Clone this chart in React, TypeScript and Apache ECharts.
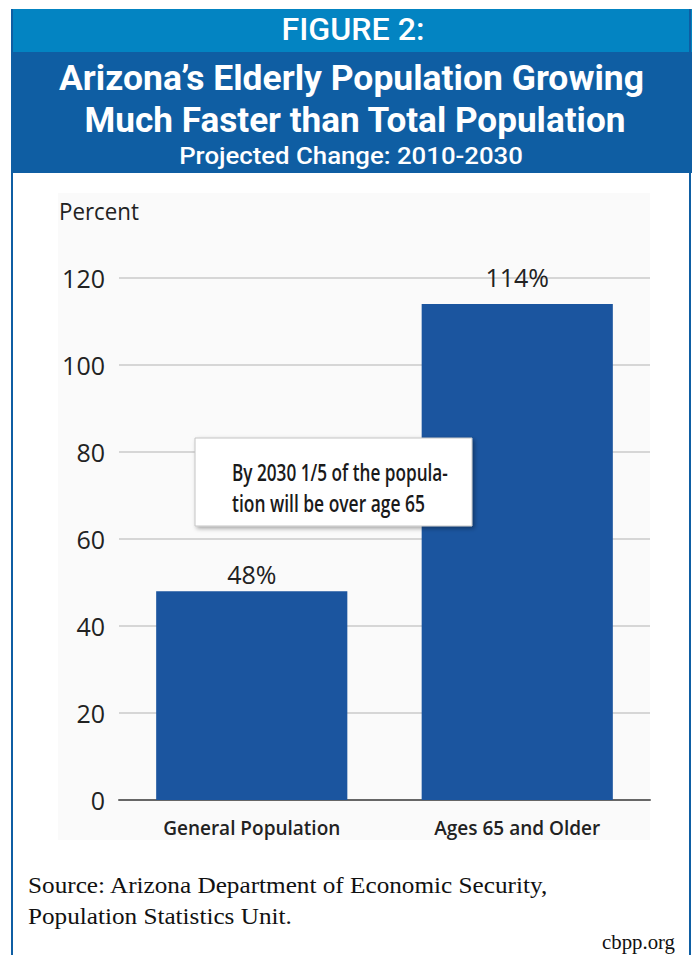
import React, { useEffect, useRef } from "react";
import * as echarts from "echarts";

const categories = ["General Population", "Ages 65 and Older"];
const values = [48, 114];
const valueLabels = ["48%", "114%"];
const yTicks = [0, 20, 40, 60, 80, 100, 120];

const figureLabel = "FIGURE 2:";
const titleLines = ["Arizona’s Elderly Population Growing", "Much Faster than Total Population"];
const subtitle = "Projected Change: 2010-2030";
const noteLines = ["By 2030 1/5 of the popula-", "tion will be over age 65"];
const sourceLines = ["Source: Arizona Department of Economic Security,", "Population Statistics Unit."];
const credit = "cbpp.org";

function measure(text: string, font: string): number {
  const c = document.createElement("canvas").getContext("2d");
  if (!c) return 100;
  c.font = font;
  return c.measureText(text).width;
}

function fitText(
  text: string,
  x: number,
  y: number,
  size: number,
  weight: string,
  family: string,
  target: number,
  color: string,
  align: string,
  z = 10
) {
  const font = `${weight} ${size}px ${family}`;
  const w = measure(text, font);
  const sx = target / w;
  return {
    type: "text",
    x,
    y,
    scaleX: sx,
    z,
    style: {
      text,
      fill: color,
      font,
      textAlign: align,
      textVerticalAlign: "middle",
    },
  };
}

export default function App() {
  const ref = useRef<HTMLDivElement>(null);
  useEffect(() => {
    if (!ref.current) return;
    const chart = echarts.init(ref.current, null, { renderer: "svg" });
    const sans = "Roboto, 'Noto Sans', sans-serif";
    const body = "'Open Sans', 'Noto Sans', sans-serif";
    const serif = "'Liberation Serif', 'DejaVu Serif', serif";
    const barColor = "#1b559f";

    const graphic: any[] = [
      // frame
      { type: "rect", shape: { x: 11, y: 9, width: 681, height: 43 }, style: { fill: "#0384c2" }, z: 1 },
      { type: "rect", shape: { x: 11, y: 52, width: 681, height: 121 }, style: { fill: "#0f5ea3" }, z: 1 },
      { type: "rect", shape: { x: 11, y: 9, width: 2, height: 946 }, style: { fill: "#0f5ea3" }, z: 1 },
      { type: "rect", shape: { x: 689, y: 9, width: 2, height: 946 }, style: { fill: "#0f5ea3" }, z: 1 },
      // plot background
      { type: "rect", shape: { x: 58, y: 193, width: 592, height: 647 }, style: { fill: "#fafafa" }, z: -10 },
      fitText(figureLabel, 353, 30, 31, "500", sans, 143, "#ffffff", "center"),
      fitText(titleLines[0], 351.5, 78, 35, "bold", sans, 585, "#ffffff", "center"),
      fitText(titleLines[1], 355, 120, 35, "bold", sans, 542, "#ffffff", "center"),
      fitText(subtitle, 351, 156, 24, "500", sans, 344, "#ffffff", "center"),
      fitText("Percent", 59, 211, 24, "normal", body, 80, "#222222", "left"),
      // annotation box
      {
        type: "rect",
        shape: { x: 195, y: 438, width: 277, height: 88 },
        style: {
          fill: "#ffffff",
          stroke: "#c4c4c4",
          lineWidth: 1,
          shadowBlur: 4,
          shadowOffsetX: 2,
          shadowOffsetY: 2,
          shadowColor: "rgba(0,0,0,0.35)",
        },
        z: 20,
      },
      fitText(noteLines[0], 232, 472, 23, "600", body, 216, "#1a1a1a", "left", 21),
      fitText(noteLines[1], 232, 503, 23, "600", body, 193, "#1a1a1a", "left", 21),
      fitText(sourceLines[0], 28, 885, 24, "normal", serif, 521, "#111111", "left"),
      fitText(sourceLines[1], 28, 916, 24, "normal", serif, 264, "#111111", "left"),
      fitText(credit, 675, 942, 20, "normal", serif, 73, "#111111", "right"),
    ];

    chart.setOption({
      animation: false,
      backgroundColor: "#ffffff",
      grid: { left: 119, right: 42, top: 278, bottom: 155 },
      xAxis: {
        type: "category",
        data: categories,
        axisLine: { show: true, lineStyle: { color: "#666666", width: 2 } },
        axisTick: { show: false },
        axisLabel: {
          margin: 18,
          fontSize: 19,
          fontWeight: 600,
          fontFamily: body,
          color: "#222222",
        },
      },
      yAxis: {
        type: "value",
        min: yTicks[0],
        max: yTicks[yTicks.length - 1],
        interval: 20,
        axisLine: { show: false },
        axisTick: { show: false },
        splitLine: { lineStyle: { color: "#d6d6d6", width: 2 } },
        axisLabel: {
          margin: 14,
          fontSize: 25,
          fontFamily: body,
          color: "#222222",
        },
      },
      series: [
        {
          type: "bar",
          barCategoryGap: "28%",
          data: values.map((v, i) => ({
            value: v,
            label: {
              show: true,
              position: "top",
              distance: i === 0 ? 5 : 15,
              formatter: valueLabels[i],
              fontSize: 25,
              fontFamily: body,
              color: "#222222",
            },
          })),
          itemStyle: { color: barColor },
          z: 5,
        },
      ],
      graphic,
    });
    return () => chart.dispose();
  }, []);
  return (
    <div
      ref={ref}
      style={{ position: "absolute", left: 0, top: 0, width: 692, height: 955 }}
    />
  );
}
